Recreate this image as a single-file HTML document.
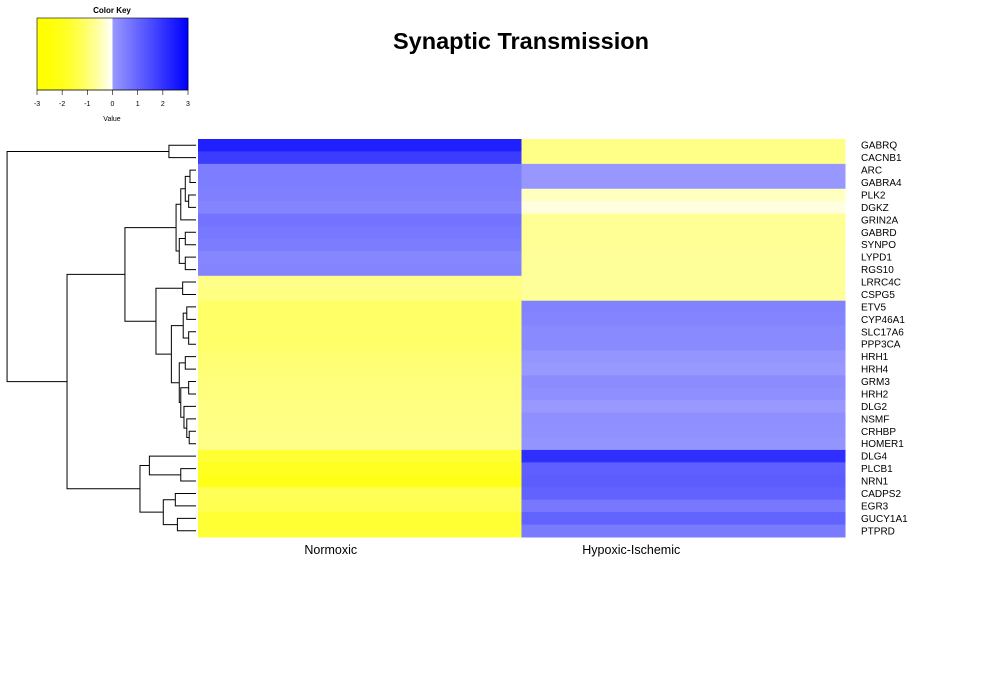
<!DOCTYPE html>
<html><head><meta charset="utf-8"><style>
body{margin:0;background:#fff}
svg{display:block;font-family:"Liberation Sans",Arial,sans-serif}
</style></head><body>
<svg id="c" width="989" height="696"></svg>
<script>
const genes=["GABRQ","CACNB1","ARC","GABRA4","PLK2","DGKZ","GRIN2A","GABRD","SYNPO","LYPD1","RGS10","LRRC4C","CSPG5","ETV5","CYP46A1","SLC17A6","PPP3CA","HRH1","HRH4","GRM3","HRH2","DLG2","NSMF","CRHBP","HOMER1","DLG4","PLCB1","NRN1","CADPS2","EGR3","GUCY1A1","PTPRD"];
const conditions=["Normoxic","Hypoxic-Ischemic"];
const normoxic=[2.37,1.82,0.55,0.55,0.5,0.41,0.75,0.67,0.57,0.37,0.41,-0.81,-0.87,-1.1,-1.1,-1.07,-1.07,-1.0,-0.97,-0.92,-0.9,-0.87,-0.84,-0.83,-0.81,-1.66,-1.9,-2.08,-1.27,-1.3,-1.66,-1.6];
const hypoxic=[-0.81,-0.81,0.04,0.04,-0.4,-0.19,-0.71,-0.71,-0.7,-0.68,-0.68,-0.68,-0.68,0.45,0.42,0.3,0.3,0.08,0.02,0.25,0.2,0.02,0.2,0.17,0.1,2.1,1.14,1.2,1.07,0.67,1.07,0.6];
const keyTicks=[-3,-2,-1,0,1,2,3];
// dendrogram: [mergeHeight, left, right], leaves = row index
const tree=[10.05,[1.44,0,1],[6.86,
  [3.78,
    [1.06,[0.81,[0.57,[0.32,2,3],[0.39,4,5]],6],[0.89,[0.57,7,8],[0.57,9,10]]],
    [2.13,[0.71,11,12],[1.31,[0.68,[0.49,13,14],[0.39,15,16]],[0.89,[0.57,17,18],[0.81,[0.39,19,20],[0.64,21,[0.49,22,[0.36,23,24]]]]]]]],
  [2.98,[2.48,25,[0.81,26,27]],[1.74,[1.10,28,29],[0.99,30,31]]]]];

const NS="http://www.w3.org/2000/svg";const svg=document.getElementById('c');
function mk(t,a,p){const e=document.createElementNS(NS,t);for(const k in a)e.setAttribute(k,a[k]);(p||svg).appendChild(e);return e;}
const X0=198,X1=845,Y0=139,Y1=537;
const rowH=(Y1-Y0)/genes.length, colW=(X1-X0)/conditions.length;
const yS=i=>Y0+i*rowH;
function col(v){
  v=Math.max(-3,Math.min(3,v));
  if(v<0){const t=(v+3)/3;return `rgb(255,255,${Math.round(255*t*t)})`;}
  const r=Math.round(153*(1-v/3));return `rgb(${r},${r},255)`;
}
const series=[normoxic,hypoxic];
const gH=mk('g',{});
series.forEach((s,c)=>s.forEach((v,i)=>{
  const r=mk('rect',{x:X0+c*colW,y:yS(i),width:colW+0.5,height:rowH+0.5,fill:col(v)},gH);
  
  
}));
genes.forEach((g,i)=>{const t=mk('text',{x:861,y:yS(i)+rowH/2+3.5,'font-size':10});t.textContent=g;
  
  });
const labelShift=[-29,-52];
conditions.forEach((c,j)=>{const t=mk('text',{x:X0+(j+0.5)*colW+labelShift[j],y:554,'font-size':12.5,'text-anchor':'middle'});t.textContent=c;
  
  });
const ti=mk('text',{x:521,y:49,'font-size':23.5,'font-weight':'bold','text-anchor':'middle'});ti.textContent="Synaptic Transmission";


// dendrogram
const hx=h=>196-h*18.8;
const gD=mk('g',{stroke:'#000','stroke-width':1,fill:'none'});


function draw(n){
  if(typeof n==='number')return {x:196,y:yS(n)+rowH/2};
  const a=draw(n[1]),b=draw(n[2]),x=hx(n[0]);
  mk('path',{d:`M${a.x},${a.y}H${x}V${b.y}H${b.x}`},gD);
  return {x:x,y:(a.y+b.y)/2};
}
draw(tree);
// color key
const gK=mk('g',{});
const kx=v=>37+(v+3)/6*151;
for(let i=0;i<120;i++){const v=-3+6*i/120;mk('rect',{x:kx(v),y:18,width:151/120+0.4,height:72,fill:col(v+0.025)},gK);}
mk('rect',{x:37,y:18,width:151,height:72,fill:'none',stroke:'#000','stroke-width':0.6},gK);
mk('line',{x1:37,x2:188,y1:90,y2:90,stroke:'#000','stroke-width':0.6},gK);
keyTicks.forEach(v=>{mk('line',{x1:kx(v),x2:kx(v),y1:90,y2:95,stroke:'#000','stroke-width':0.6},gK);
  const t=mk('text',{x:kx(v),y:106,'font-size':7,'text-anchor':'middle'},gK);t.textContent=v;});
const kt=mk('text',{x:112,y:13,'font-size':8,'font-weight':'bold','text-anchor':'middle'},gK);kt.textContent="Color Key";
const kv=mk('text',{x:112,y:121,'font-size':7,'text-anchor':'middle'},gK);kv.textContent="Value";
</script></body></html>
